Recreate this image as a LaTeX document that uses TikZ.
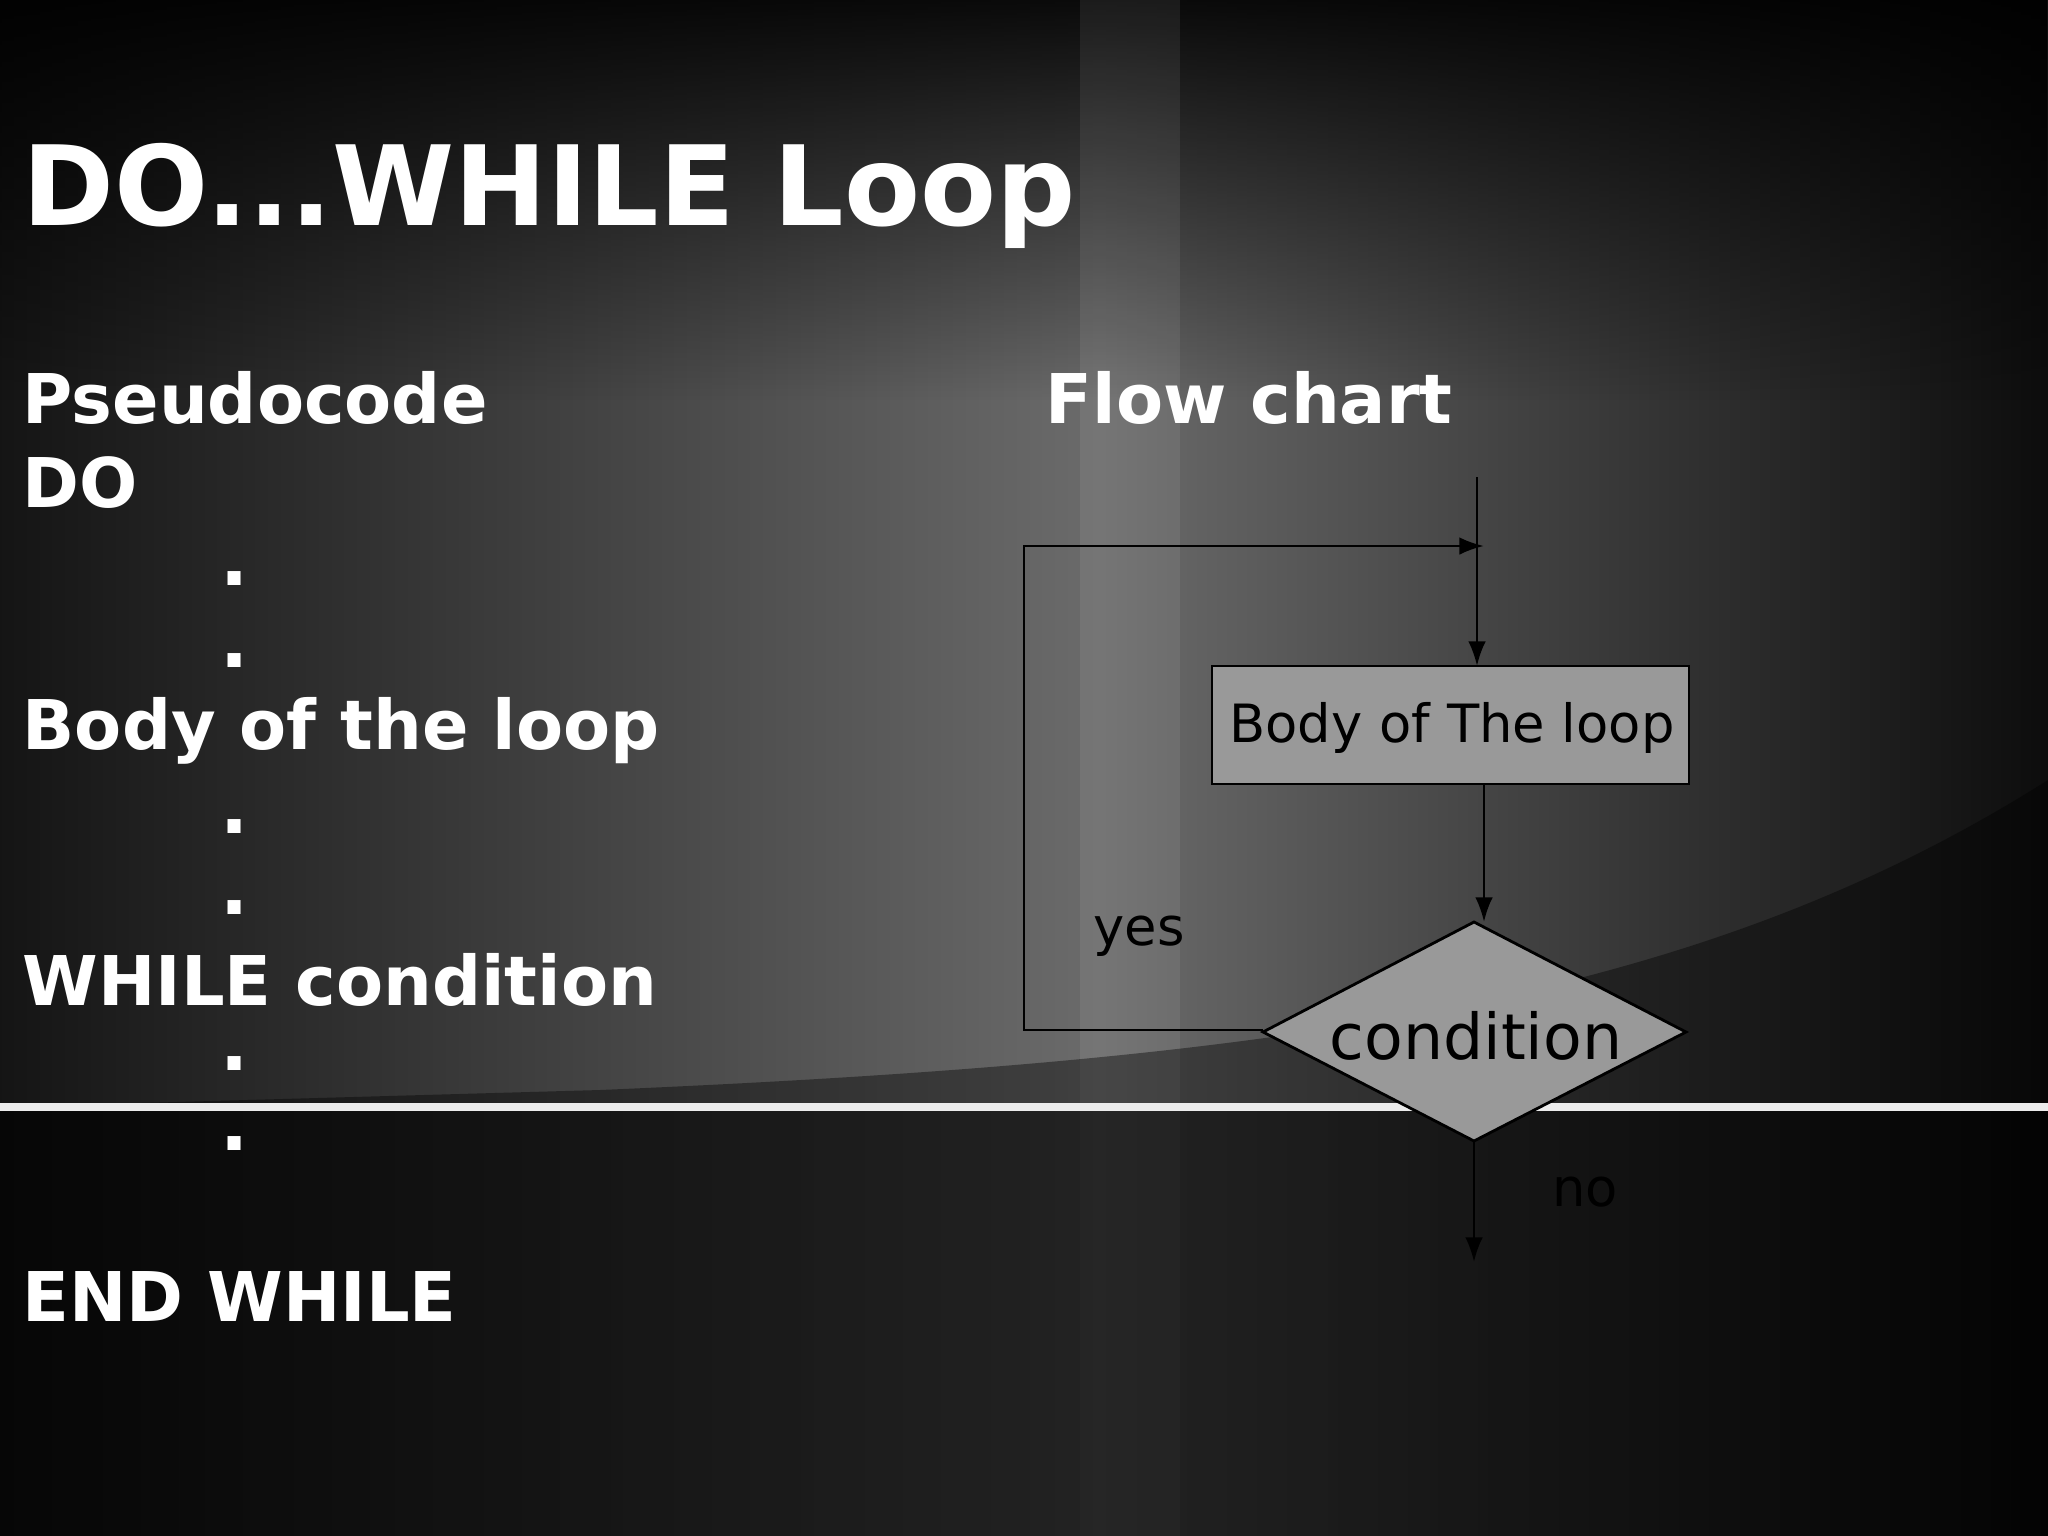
\documentclass[tikz,border=0pt]{standalone}
\usepackage{fontspec}
\setmainfont{DejaVu Sans}
\usetikzlibrary{arrows.meta,fadings}
\begin{document}
\begin{tikzpicture}[x=0.01cm,y=-0.01cm,
  head/.style={text=white,font=\bfseries\fontsize{19.5}{24}\selectfont,anchor=west,inner sep=0},
  dotn/.style={text=white,font=\bfseries\fontsize{21}{24}\selectfont,inner sep=0,text height=0.25em,text depth=0pt},
  fl/.style={draw=black,line width=0.8pt},
  arr/.style={fl,-{Latex[length=7pt,width=5pt]}},
  lab/.style={text=black,font=\fontsize{15}{18}\selectfont}]
\useasboundingbox (0,0) rectangle (2048,1536);
\fill[black] (0,0) rectangle (2048,1536);
\shade[left color=black!92,right color=black!58] (0,0) rectangle (1100,1536);
\shade[left color=black!58,right color=black!95] (1100,0) rectangle (2048,1536);
\fill[black,path fading=south,opacity=0.9] (0,0) rectangle (2048,400);
\fill[white,opacity=0.07] (1080,0) rectangle (1180,1536);
\fill[black,opacity=0.4] (0,1107) -- (600,1090) .. controls (1300,1060) and (1700,1000) .. (2048,780) -- (2048,1536) -- (0,1536) -- cycle;
\fill[black,opacity=0.45] (0,1110) rectangle (2048,1536);
\draw[white!85!gray,line width=2pt] (0,1107) -- (2048,1107);
\node[text=white,font=\bfseries\fontsize{31.5}{36}\selectfont,anchor=west,inner sep=0] (title) at (22,196) {DO...WHILE Loop};
\node[head] (ps) at (22,398) {Pseudocode};
\node[head] (do) at (22,483) {DO};
\node[dotn] (d1) at (235,581) {.};
\node[dotn] (d2) at (235,663) {.};
\node[head] (bl) at (22,731) {Body of the loop};
\node[dotn] (d3) at (235,829) {.};
\node[dotn] (d4) at (235,910) {.};
\node[head] (wc) at (22,980) {WHILE condition};
\node[dotn] (d5) at (235,1066) {.};
\node[dotn] (d6) at (235,1146) {.};
\node[head] (ew) at (22,1296) {END WHILE};
\node[head] (fc) at (1045,398) {Flow chart};
\fill[black!40!white] (1212,666) rectangle (1689,784);
\draw[fl] (1212,666) rectangle (1689,784);
\node[lab] (bt) at (1452,728) {Body of The loop};
\coordinate (btop) at (1477,666);
\coordinate (bbot) at (1484,784);
\path[fl,fill=black!40!white] (1263,1032) -- (1474,922) -- (1686,1032) -- (1474,1141) -- cycle;
\node[lab,font=\fontsize{18}{22}\selectfont] (cond) at (1476,1036) {condition};
\coordinate (dtop) at (1484,922);
\coordinate (dleft) at (1263,1030);
\coordinate (dbot) at (1474,1141);
\coordinate (entry) at (1477,477);
\coordinate (lb) at (1024,1030);
\coordinate (lt) at (1024,546);
\coordinate (lj) at (1484,546);
\coordinate (exit) at (1474,1262);
\draw[arr] (entry) -- (btop);
\draw[arr] (dleft) -- (lb) -- (lt) -- (lj);
\draw[arr] (bbot) -- (dtop);
\draw[arr] (dbot) -- (exit);
\node[lab] (yes) at (1139,936) {yes};
\node[lab] (no) at (1585,1192) {no};
\end{tikzpicture}
\end{document}
